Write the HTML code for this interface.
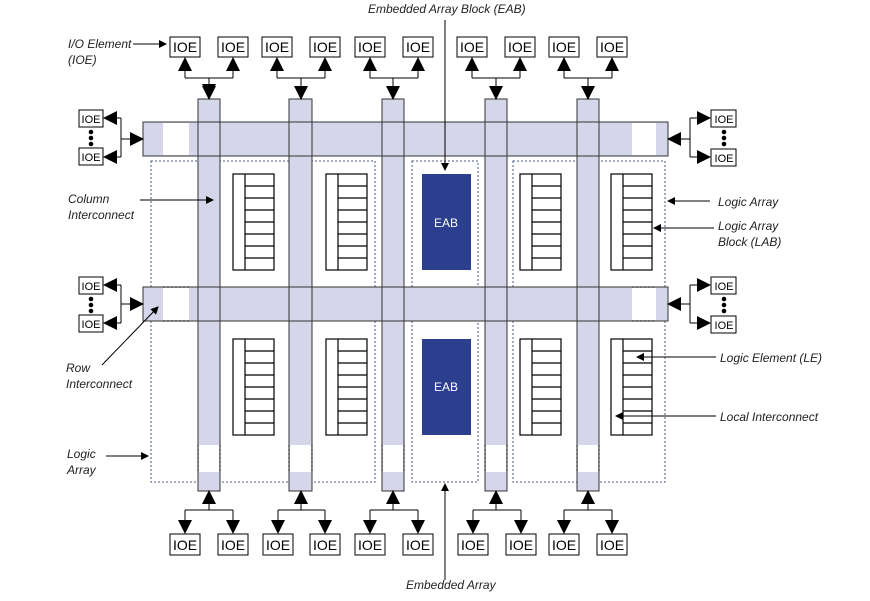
<!DOCTYPE html>
<html><head><style>body{margin:0;background:#fff}</style></head><body>
<svg width="870" height="596" xmlns="http://www.w3.org/2000/svg" font-family="Liberation Sans, sans-serif">
<defs>
<marker id="a" markerWidth="8" markerHeight="8" refX="7" refY="4" orient="auto" markerUnits="userSpaceOnUse"><path d="M0,0L8,4L0,8z" fill="#000"/></marker>
<marker id="b" markerWidth="14" markerHeight="14" refX="13" refY="7" orient="auto" markerUnits="userSpaceOnUse"><path d="M0,0L14,7L0,14z" fill="#000"/></marker>
</defs>
<g fill="none" stroke="#4a5a8a" stroke-dasharray="2,2" stroke-width="1">
<rect x="151" y="161" width="224" height="321"/>
<rect x="412" y="161" width="66" height="321"/>
<rect x="513" y="161" width="152" height="321"/>
</g>
<g fill="#d6d6ea" stroke="#333" stroke-width="1">
<rect x="143" y="122" width="525" height="34"/>
<rect x="143" y="287" width="525" height="34"/>
</g>
<g fill="#fff"><rect x="163" y="123" width="26" height="32"/><rect x="632" y="123" width="24" height="32"/><rect x="163" y="288" width="26" height="32"/><rect x="632" y="288" width="24" height="32"/></g>
<g stroke="#000" stroke-dasharray="2,2"><line x1="163" y1="122" x2="189" y2="122"/><line x1="163" y1="156" x2="189" y2="156"/><line x1="632" y1="122" x2="656" y2="122"/><line x1="632" y1="156" x2="656" y2="156"/><line x1="163" y1="287" x2="189" y2="287"/><line x1="163" y1="321" x2="189" y2="321"/><line x1="632" y1="287" x2="656" y2="287"/><line x1="632" y1="321" x2="656" y2="321"/></g>
<g id="cols">
<g fill="#d6d6ea" stroke="#333">
<rect x="198" y="99" width="22" height="392"/><rect x="289" y="99" width="23" height="392"/><rect x="382" y="99" width="22" height="392"/><rect x="485" y="99" width="22" height="392"/><rect x="577" y="99" width="22" height="392"/>
</g>
<g fill="#fff"><rect x="199" y="445" width="20" height="27"/><rect x="290" y="445" width="21" height="27"/><rect x="383" y="445" width="20" height="27"/><rect x="486" y="445" width="20" height="27"/><rect x="578" y="445" width="20" height="27"/></g>
<g stroke="#000" stroke-dasharray="2,2"><path d="M198 445V472M220 445V472M289 445V472M312 445V472M382 445V472M404 445V472M485 445V472M507 445V472M577 445V472M599 445V472"/></g>
</g>
<g fill="#d6d6ea" stroke="#333"><path d="M198 122V156M220 122V156M289 122V156M312 122V156M382 122V156M404 122V156M485 122V156M507 122V156M577 122V156M599 122V156"/></g>
<rect x="143" y="122" width="525" height="34" fill="none" stroke="#333"/>
<g fill="#d6d6ea" stroke="#333">
<rect x="198" y="122" width="22" height="34"/><rect x="289" y="122" width="23" height="34"/><rect x="382" y="122" width="22" height="34"/><rect x="485" y="122" width="22" height="34"/><rect x="577" y="122" width="22" height="34"/>
<rect x="198" y="287" width="22" height="34"/><rect x="289" y="287" width="23" height="34"/><rect x="382" y="287" width="22" height="34"/><rect x="485" y="287" width="22" height="34"/><rect x="577" y="287" width="22" height="34"/>
</g>
<g fill="#d6d6ea"><rect x="199" y="123" width="20" height="32"/><rect x="290" y="123" width="21" height="32"/><rect x="383" y="123" width="20" height="32"/><rect x="486" y="123" width="20" height="32"/><rect x="578" y="123" width="20" height="32"/><rect x="199" y="288" width="20" height="32"/><rect x="290" y="288" width="21" height="32"/><rect x="383" y="288" width="20" height="32"/><rect x="486" y="288" width="20" height="32"/><rect x="578" y="288" width="20" height="32"/></g>
<g fill="#fff" stroke="#000" stroke-width="1.2">
<g id="lab"><rect x="233" y="174" width="41" height="96"/><line x1="245" y1="174" x2="245" y2="270"/><path d="M245 186H274M245 198H274M245 210H274M245 222H274M245 234H274M245 246H274M245 258H274"/></g>
<use href="#lab" x="93"/><use href="#lab" x="287"/><use href="#lab" x="378"/>
<use href="#lab" y="165"/><use href="#lab" x="93" y="165"/><use href="#lab" x="287" y="165"/><use href="#lab" x="378" y="165"/>
</g>
<g fill="#2c3f8f"><rect x="422" y="174" width="49" height="96"/><rect x="422" y="339" width="49" height="96"/></g>
<g fill="#fff" font-size="12" text-anchor="middle"><text x="446" y="227">EAB</text><text x="446" y="391">EAB</text></g>
<g stroke="#000" fill="#fff">
<g id="top"><rect x="170" y="37" width="30" height="20"/><rect x="218" y="37" width="30" height="20"/><path d="M185 78H233M185 78V59M233 78V59M209 78V97" fill="none" marker-end="url(#b)"/></g>
</g>
<g stroke="#000" fill="none"><path d="M185 78V58" marker-end="url(#b)"/><path d="M233 78V58" marker-end="url(#b)"/><path d="M209 78V99" marker-end="url(#b)"/></g>
<g id="tops" stroke="#000" fill="#fff" font-size="14">
</g>
<g font-size="14" stroke="#000" fill="#fff">
<rect x="262" y="37" width="30" height="20"/><rect x="310" y="37" width="30" height="20"/>
<rect x="355" y="37" width="30" height="20"/><rect x="403" y="37" width="30" height="20"/>
<rect x="457" y="37" width="30" height="20"/><rect x="505" y="37" width="30" height="20"/>
<rect x="549" y="37" width="30" height="20"/><rect x="597" y="37" width="30" height="20"/>
<rect x="170" y="534" width="30" height="21"/><rect x="218" y="534" width="30" height="21"/>
<rect x="263" y="534" width="30" height="21"/><rect x="310" y="534" width="30" height="21"/>
<rect x="355" y="534" width="30" height="21"/><rect x="403" y="534" width="30" height="21"/>
<rect x="458" y="534" width="30" height="21"/><rect x="506" y="534" width="30" height="21"/>
<rect x="549" y="534" width="30" height="21"/><rect x="597" y="534" width="30" height="21"/>
<rect x="79" y="110" width="24" height="17"/><rect x="79" y="148" width="24" height="17"/>
<rect x="79" y="277" width="24" height="17"/><rect x="79" y="315" width="24" height="17"/>
<rect x="711" y="110" width="25" height="17"/><rect x="711" y="149" width="25" height="17"/>
<rect x="711" y="277" width="25" height="17"/><rect x="711" y="316" width="25" height="17"/>
</g>
<g stroke="#000" fill="none">
<path d="M277 78H325M277 78V58M325 78V58M301 78V99" marker-end="url(#b)"/><path d="M277 78V58" marker-end="url(#b)"/><path d="M325 78V58" marker-end="url(#b)"/>
<path d="M370 78H418M370 78V58M418 78V58M393 78V99" marker-end="url(#b)"/><path d="M370 78V58" marker-end="url(#b)"/><path d="M418 78V58" marker-end="url(#b)"/>
<path d="M472 78H520M472 78V58M520 78V58M496 78V99" marker-end="url(#b)"/><path d="M472 78V58" marker-end="url(#b)"/><path d="M520 78V58" marker-end="url(#b)"/>
<path d="M564 78H612M564 78V58M612 78V58M588 78V99" marker-end="url(#b)"/><path d="M564 78V58" marker-end="url(#b)"/><path d="M612 78V58" marker-end="url(#b)"/>
<g id="bot"></g>
<path d="M185 510H233M209 510V491" marker-end="url(#b)"/><path d="M185 510V533" marker-end="url(#b)"/><path d="M233 510V533" marker-end="url(#b)"/>
<path d="M278 510H325M301 510V491" marker-end="url(#b)"/><path d="M278 510V533" marker-end="url(#b)"/><path d="M325 510V533" marker-end="url(#b)"/>
<path d="M370 510H418M393 510V491" marker-end="url(#b)"/><path d="M370 510V533" marker-end="url(#b)"/><path d="M418 510V533" marker-end="url(#b)"/>
<path d="M473 510H521M496 510V491" marker-end="url(#b)"/><path d="M473 510V533" marker-end="url(#b)"/><path d="M521 510V533" marker-end="url(#b)"/>
<path d="M564 510H612M588 510V491" marker-end="url(#b)"/><path d="M564 510V533" marker-end="url(#b)"/><path d="M612 510V533" marker-end="url(#b)"/>
<path d="M121 118V157M121 139H143" marker-end="url(#b)"/><path d="M121 118H104" marker-end="url(#b)"/><path d="M121 157H104" marker-end="url(#b)"/>
<path d="M121 285V323M121 304H143" marker-end="url(#b)"/><path d="M121 285H104" marker-end="url(#b)"/><path d="M121 323H104" marker-end="url(#b)"/>
<path d="M690 118V157M690 139H668" marker-end="url(#b)"/><path d="M690 118H710" marker-end="url(#b)"/><path d="M690 157H710" marker-end="url(#b)"/>
<path d="M690 285V323M690 304H668" marker-end="url(#b)"/><path d="M690 285H710" marker-end="url(#b)"/><path d="M690 323H710" marker-end="url(#b)"/>
</g>
<g fill="#000"><circle cx="91" cy="132" r="2.3"/><circle cx="91" cy="138" r="2.3"/><circle cx="91" cy="144" r="2.3"/><circle cx="91" cy="299" r="2.3"/><circle cx="91" cy="305" r="2.3"/><circle cx="91" cy="311" r="2.3"/><circle cx="724" cy="132" r="2.3"/><circle cx="724" cy="138" r="2.3"/><circle cx="724" cy="144" r="2.3"/><circle cx="724" cy="299" r="2.3"/><circle cx="724" cy="305" r="2.3"/><circle cx="724" cy="311" r="2.3"/></g>
<g font-size="14" fill="#000" text-anchor="middle">
<text x="185" y="52">IOE</text><text x="233" y="52">IOE</text><text x="277" y="52">IOE</text><text x="325" y="52">IOE</text><text x="370" y="52">IOE</text><text x="418" y="52">IOE</text><text x="472" y="52">IOE</text><text x="520" y="52">IOE</text><text x="564" y="52">IOE</text><text x="612" y="52">IOE</text>
<text x="185" y="550">IOE</text><text x="233" y="550">IOE</text><text x="278" y="550">IOE</text><text x="325" y="550">IOE</text><text x="370" y="550">IOE</text><text x="418" y="550">IOE</text><text x="473" y="550">IOE</text><text x="521" y="550">IOE</text><text x="564" y="550">IOE</text><text x="612" y="550">IOE</text>
</g>
<g font-size="11" fill="#000" text-anchor="middle">
<text x="91" y="123">IOE</text><text x="91" y="161">IOE</text><text x="91" y="290">IOE</text><text x="91" y="328">IOE</text>
<text x="724" y="123">IOE</text><text x="724" y="162">IOE</text><text x="724" y="290">IOE</text><text x="724" y="329">IOE</text>
</g>
<g stroke="#000" fill="none" stroke-width="1">
<path d="M133 44H166" marker-end="url(#a)"/>
<path d="M445 20V170" marker-end="url(#a)"/>
<path d="M445 580V484" marker-end="url(#a)"/>
<path d="M140 200H213" marker-end="url(#a)"/>
<path d="M102 365L158 307" marker-end="url(#a)"/>
<path d="M106 456H148" marker-end="url(#a)"/>
<path d="M710 201H668" marker-end="url(#a)"/>
<path d="M714 228H654" marker-end="url(#a)"/>
<path d="M716 357H637" marker-end="url(#a)"/>
<path d="M716 416H616" marker-end="url(#a)"/>
</g>
<g font-size="12" font-style="italic" fill="#222">
<text x="368" y="13">Embedded Array Block (EAB)</text>
<text x="68" y="48">I/O Element</text><text x="68" y="64">(IOE)</text>
<text x="68" y="203">Column</text><text x="68" y="219">Interconnect</text>
<text x="66" y="372">Row</text><text x="66" y="388">Interconnect</text>
<text x="67" y="458">Logic</text><text x="67" y="474">Array</text>
<text x="718" y="206">Logic Array</text>
<text x="718" y="230">Logic Array</text><text x="718" y="246">Block (LAB)</text>
<text x="720" y="362">Logic Element (LE)</text>
<text x="720" y="421">Local Interconnect</text>
<text x="406" y="589">Embedded Array</text>
</g>
</svg>
</body></html>
